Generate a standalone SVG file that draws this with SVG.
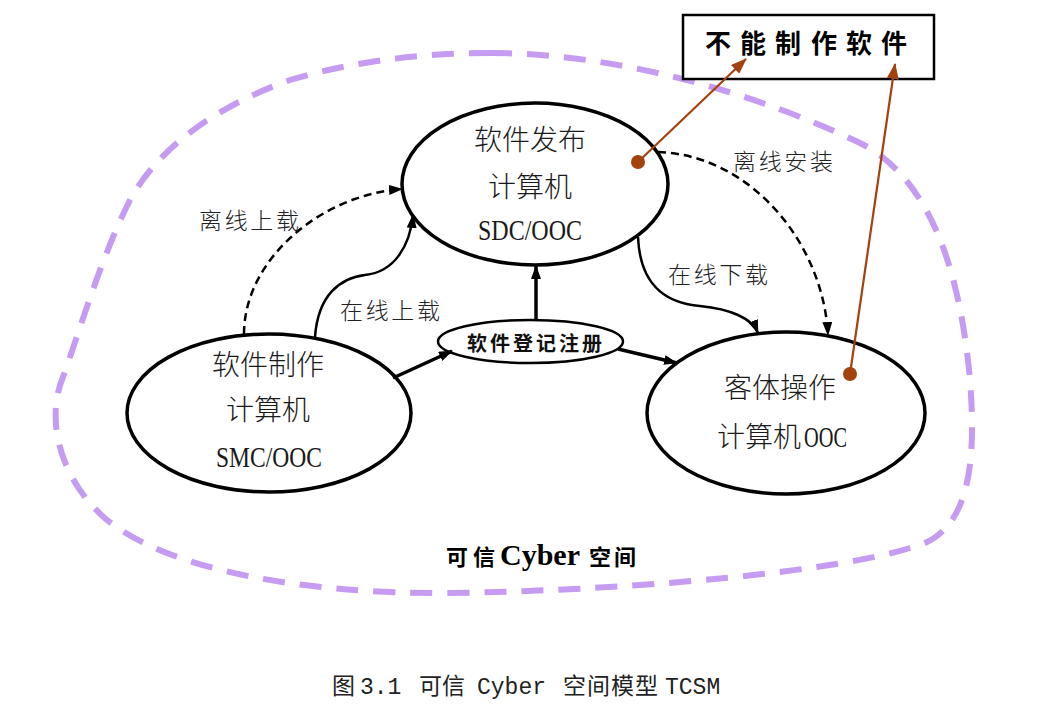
<svg xmlns="http://www.w3.org/2000/svg" width="1053" height="710" viewBox="0 0 1053 710">
<style>
.cjk{font-family:"Noto Sans CJK SC","Noto Sans",sans-serif;}
.node{fill:#fff;stroke:#000;stroke-width:3.5;}
.nt{font-family:"Noto Sans CJK SC",sans-serif;font-size:28px;fill:#1a1a1a;text-anchor:middle;font-weight:300;}
.lat{font-family:"Liberation Serif",serif;font-size:29px;fill:#1a1a1a;}
.lbl{font-family:"Noto Sans CJK SC",sans-serif;font-size:23px;fill:#222;font-weight:300;}
.solid{fill:none;stroke:#000;stroke-width:2.5;}
.thick{fill:none;stroke:#000;stroke-width:3.5;}
.dash{fill:none;stroke:#000;stroke-width:2.5;stroke-dasharray:8 5;}
.brown{fill:none;stroke:#A3410F;stroke-width:2.2;}
.dot{fill:#A3410F;}
.cap{font-size:23px;fill:#222;}
</style>
<defs>
<marker id="ah" markerUnits="userSpaceOnUse" markerWidth="14" markerHeight="10" refX="13" refY="5" orient="auto">
<path d="M0,0 L14,5 L0,10 z" fill="#000"/>
</marker>
<marker id="ahb" markerUnits="userSpaceOnUse" markerWidth="16" markerHeight="12" refX="15" refY="6" orient="auto">
<path d="M0,0 L16,6 L0,12 z" fill="#A3410F"/>
</marker>
</defs>
<rect width="1053" height="710" fill="#fff"/>

<g id="cyber-space">
<path d="M490,53 C620,53 760,95 860,143 C930,178 960,270 970,380 C977,470 968,535 910,548 C840,570 650,590 450,593 C300,594 170,570 107,520 C60,480 45,420 63,377 C80,330 100,260 130,200 C160,145 220,105 290,80 C350,62 420,53 490,53 Z" fill="none" stroke="#C59CF2" stroke-width="6" stroke-dasharray="22 15"/>
<text y="565" font-weight="bold" fill="#000"><tspan class="cjk" font-size="22" x="446 473">可信</tspan><tspan x="500" font-family="Liberation Serif" font-size="30">Cyber</tspan><tspan class="cjk" font-size="22" x="589 614">空间</tspan></text>
</g>

<g id="node-smc">
<ellipse class="node" cx="269" cy="413" rx="142" ry="79"/>
<text class="nt" x="268" y="375">软件制作</text>
<text class="nt" x="268" y="420">计算机</text>
<text class="lat" x="216" y="467" textLength="106" lengthAdjust="spacingAndGlyphs">SMC/OOC</text>
</g>

<g id="node-sdc">
<ellipse class="node" cx="535" cy="184" rx="133" ry="81"/>
<text class="nt" x="530" y="150">软件发布</text>
<text class="nt" x="530" y="197">计算机</text>
<text class="lat" x="478" y="240" textLength="104" lengthAdjust="spacingAndGlyphs">SDC/OOC</text>
</g>

<g id="node-reg">
<ellipse cx="530.5" cy="341.5" rx="92.5" ry="21.5" fill="#fff" stroke="#000" stroke-width="2.5"/>
<text class="cjk" y="351" font-size="20" font-weight="bold" fill="#111" x="467 490 513 536 559 582">软件登记注册</text>
</g>

<g id="node-ooc">
<ellipse class="node" cx="786" cy="413" rx="139" ry="81"/>
<text class="nt" x="780" y="398">客体操作</text>
<text class="nt" x="717" y="447" style="text-anchor:start">计算机<tspan class="lat" x="804" textLength="43" lengthAdjust="spacingAndGlyphs">OOC</tspan></text>
</g>

<g id="node-cannot">
<rect x="683" y="15" width="251" height="64" fill="#fff" stroke="#000" stroke-width="2.5"/>
<text class="cjk" y="53" font-size="26" font-weight="bold" fill="#000" x="705 740 775 811 846 881">不能制作软件</text>
</g>

<g id="connectors">
<path class="dash" d="M244,334 C244,260 320,195 402,189" marker-end="url(#ah)"/>
<path class="solid" d="M315,337 C318,295 340,278 365,275 C395,272 410,245 413,215" marker-end="url(#ah)"/>
<path class="thick" d="M393,378 L452,351" marker-end="url(#ah)"/>
<path class="thick" d="M536,320 L536,266" marker-end="url(#ah)"/>
<path class="thick" d="M618,349 L677,363" marker-end="url(#ah)"/>
<path class="solid" d="M638,237 C640,285 665,303 700,306 C730,309 752,318 758,333" marker-end="url(#ah)"/>
<path class="dash" d="M658,152 C750,155 823,242 828,335" marker-end="url(#ah)"/>
<path class="brown" d="M638,162 L746,59" marker-end="url(#ahb)"/>
<circle class="dot" cx="638" cy="162" r="7"/>
<path class="brown" d="M850,374 L895,64" marker-end="url(#ahb)"/>
<circle class="dot" cx="850" cy="374" r="7"/>
<text class="lbl" x="199" y="229" textLength="100">离线上载</text>
<text class="lbl" x="340" y="319" textLength="100">在线上载</text>
<text class="lbl" x="668" y="283" textLength="100">在线下载</text>
<text class="lbl" x="733" y="170" textLength="100">离线安装</text>
</g>

<text id="caption" y="694" class="cap">
<tspan class="cjk" x="332">图</tspan>
<tspan font-family="Liberation Mono" x="360">3.1</tspan>
<tspan class="cjk" x="419 442">可信</tspan>
<tspan font-family="Liberation Mono" x="477">Cyber</tspan>
<tspan class="cjk" x="563 587 611 635">空间模型</tspan>
<tspan font-family="Liberation Mono" x="665">TCSM</tspan>
</text>
</svg>
